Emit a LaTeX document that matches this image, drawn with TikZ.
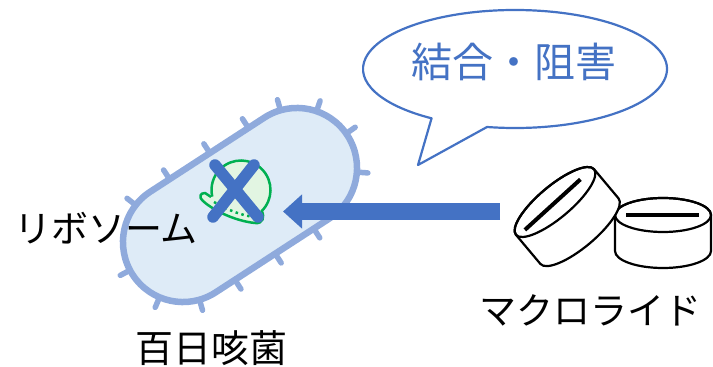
\documentclass[tikz,border=0pt]{standalone}
\usepackage{fontspec}
\newfontfamily\jpfont{Noto Sans CJK JP}
\usetikzlibrary{arrows.meta}
\definecolor{accent}{HTML}{4472C4}
\definecolor{cellline}{HTML}{8FAADC}
\definecolor{cellfill}{HTML}{DEEBF7}
\definecolor{ribo}{HTML}{00B050}
\definecolor{ribofill}{HTML}{E2F5E2}
\begin{document}
\begin{tikzpicture}[x=1pt,y=1pt,
  caption/.style={font=\jpfont\fontsize{37}{40}\selectfont, anchor=base, inner sep=0pt},
  spike/.style={cellline, line width=5.5pt, line cap=round},
  riboline/.style={ribo, line width=2.5pt},
  pill/.style={draw=black, fill=white, line width=2.2pt, line join=round},
  groove/.style={line width=4pt}]
\useasboundingbox (0,0) rectangle (713,367);

% speech bubble
\draw[accent, line width=2.2pt, fill=white, line join=round]
  (515,298) ++(259.4:152 and 59)
  arc[start angle=259.4, end angle=596.7, x radius=152, y radius=59]
  -- (418,202) -- cycle;
\node[caption, font=\jpfont\fontsize{41}{44}\selectfont, text=accent] (bubbletext) at (514,289) {結合・阻害};

% bacterium: capsule with short pili
\begin{scope}[shift={(240,162)}, rotate=33]
  \foreach \u in {-45,3,49} {
    \draw[spike] (\u,57) -- (\u,71);
    \draw[spike] (\u,-57) -- (\u,-71);
  }
  \foreach \a in {73,38,2,-37}
    \draw[spike] ([shift={(\a:57)}]68,0) -- ([shift={(\a:71)}]68,0);
  \foreach \a in {109,175,214,253}
    \draw[spike] ([shift={(\a:57)}]-68,0) -- ([shift={(\a:71)}]-68,0);
  \draw[cellline, fill=cellfill, line width=6.5pt]
    (-68,60) -- (68,60) arc[start angle=90, end angle=-90, radius=60]
    -- (-68,-60) arc[start angle=270, end angle=90, radius=60] -- cycle;
\end{scope}

% ribosome
\coordinate (ribo) at (241,177);
\fill[ribofill] (ribo) circle (29.5);
\fill[ribofill] (211,170) -- (205,174) .. controls (200,174) and (199,170) .. (202,167)
  .. controls (212,157) and (235,146) .. (255,144)
  .. controls (263,143) and (265,150) .. (261.5,156.5) -- cycle;
\draw[riboline, line join=round] (211,170) -- (205,174) .. controls (200,174) and (199,170) .. (202,167)
  .. controls (212,157) and (235,146) .. (255,144)
  .. controls (263,143) and (265,150) .. (261.5,156.5);
\draw[riboline] (ribo) ++(-46:29.5) arc[start angle=-46, end angle=193, radius=29.5];
\draw[riboline, dash pattern=on 2.5pt off 3.5pt] (214,165) .. controls (228,157) and (240,152) .. (254,150);

% cross over the ribosome
\draw[accent, line width=11.5pt, line cap=round] (215,202) -- (258,150);
\draw[accent, line width=11.5pt, line cap=round] (254,202) -- (213,150);

% arrow from the drug to the cell
\coordinate (src) at (500,155.5);
\coordinate (dst) at (283,155.5);
\draw[accent, line width=17pt, -{Triangle[length=19pt, width=33pt]}] (src) -- (dst);

% upright tablet
\begin{scope}[shift={(663,152)}]
  \path[pill] (-48,0) -- (-48,-36) arc[start angle=180, end angle=360, x radius=48, y radius=17]
    -- (48,0) arc[start angle=0, end angle=180, x radius=48, y radius=17] -- cycle;
  \draw[line width=2.2pt] (0,0) ellipse[x radius=48, y radius=17];
  \draw[groove] (-37,0) -- (36,0);
\end{scope}

% tilted tablet in front
\begin{scope}[shift={(555,165)}, rotate=40]
  \path[pill] (-51,0) -- (-51,-38) arc[start angle=180, end angle=360, x radius=51, y radius=16]
    -- (51,0) arc[start angle=0, end angle=180, x radius=51, y radius=16] -- cycle;
  \draw[line width=2.2pt] (0,0) ellipse[x radius=51, y radius=16];
  \draw[groove] (-41,-2) -- (34,1);
\end{scope}

% labels
\node[caption] (ribolabel) at (106,124) {リボソーム};
\node[caption, font=\jpfont\fontsize{38}{41}\selectfont] (celllabel) at (211.5,4.5) {百日咳菌};
\node[caption] (druglabel) at (590.5,42) {マクロライド};
\end{tikzpicture}
\end{document}
